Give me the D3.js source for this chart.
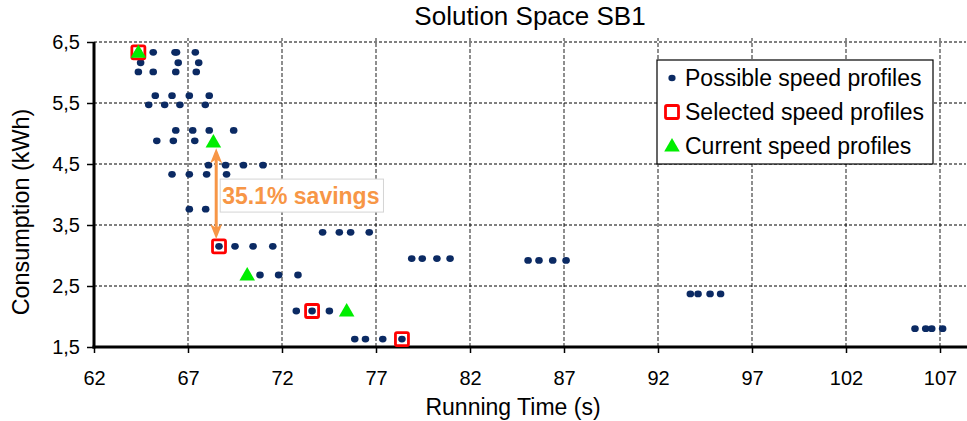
<!DOCTYPE html>
<html><head><meta charset="utf-8">
<script src="https://cdn.jsdelivr.net/npm/d3@7"></script>
<style>body{margin:0;background:#fff}svg{display:block;font-family:"Liberation Sans",Arial,sans-serif}</style>
</head><body><svg id="c" width="967" height="421"></svg>
<script>
// ---- data ----
const possibleX = [64.36,65.15,66.31,66.39,67.39, 64.48,66.48,67.57, 64.36,65.15,66.35,67.44,
  65.26,66.15,67.07,68.13, 64.91,65.76,66.57,67.92, 66.35,67.25,68.13,69.43, 65.34,66.22,67.36,
  68.09,69.0,69.95,70.99, 66.15,67.07,67.99,69.05, 67.07,67.94, 74.16,75.05,75.65,76.64,
  68.65,69.5,70.46,71.51, 70.83,71.82,72.85, 72.76,73.6,74.52, 75.87,76.44,77.36,78.38,
  78.9,79.46,80.24,80.94, 85.09,85.67,86.4,87.11, 93.72,94.13,94.77,95.33, 105.67,106.24,106.56,107.14];
const possibleY = [6.33,6.33,6.33,6.33,6.33, 6.16,6.16,6.16, 6.01,6.01,6.01,6.01,
  5.62,5.62,5.62,5.62, 5.47,5.47,5.47,5.47, 5.05,5.05,5.05,5.05, 4.88,4.88,4.88,
  4.48,4.48,4.48,4.48, 4.33,4.33,4.33,4.33, 3.76,3.76, 3.38,3.38,3.38,3.38,
  3.15,3.15,3.15,3.15, 2.68,2.68,2.68, 2.09,2.09,2.09, 1.63,1.63,1.63,1.63,
  2.95,2.95,2.95,2.95, 2.92,2.92,2.92,2.92, 2.37,2.37,2.37,2.37, 1.80,1.80,1.80,1.80];
const selectedX = [64.36, 68.65, 73.6, 78.38];
const selectedY = [6.33, 3.15, 2.09, 1.63];
const currentX = [64.36, 68.35, 70.15, 75.44];
const currentY = [6.33, 4.86, 2.68, 2.09];
const xTicks = [62,67,72,77,82,87,92,97,102,107];
const yTicks = [1.5,2.5,3.5,4.5,5.5,6.5];
const seriesNames = ["Possible speed profiles","Selected speed profiles","Current speed profiles"];
const titleText = "Solution Space SB1";
const xLabel = "Running Time (s)";
const yLabel = "Consumption (kWh)";
const savingsText = "35.1% savings";
const arrowX = 68.5, arrowTopY = 4.76, arrowBottomY = 3.27;

// ---- layout ----
const svg = d3.select("#c");
const L = 94, R = 966, T = 42, B = 347;
const x = d3.scaleLinear().domain([62,107]).range([L, 940]);
const y = d3.scaleLinear().domain([1.5,6.5]).range([B, T]);
const DOT = "#0b2a63", RED = "#ff0000", GREEN = "#00ee00", ORANGE = "#f79646";
const fmt = v => d3.format(".1f")(v).replace(".", ",");

// vertical gridlines
svg.append("g").selectAll("line").data(xTicks.filter(t => t > 62)).join("line")
  .attr("x1", d => x(d)).attr("x2", d => x(d)).attr("y1", B).attr("y2", T - 4)
  .attr("stroke", "#444").attr("stroke-width", 1.2).attr("stroke-dasharray", "4,2");
// horizontal gridlines
svg.append("g").selectAll("line").data(yTicks.filter(t => t > 1.5)).join("line")
  .attr("x1", L).attr("x2", R).attr("y1", d => y(d)).attr("y2", d => y(d))
  .attr("stroke", "#000").attr("stroke-width", 1).attr("stroke-dasharray", "3,2");

// axes
const xAxis = svg.append("g").attr("transform", `translate(0,${B})`)
  .call(d3.axisBottom(x).tickValues(xTicks).tickSize(6).tickPadding(18).tickFormat(d3.format("d")));
xAxis.select(".domain").remove();
xAxis.selectAll(".tick line").attr("stroke", "#000").attr("stroke-width", 1.5);
xAxis.selectAll("text").attr("font-size", 20).attr("fill", "#000").attr("font-family", "Liberation Sans, Arial, sans-serif");
svg.append("line").attr("x1", L - 1.5).attr("x2", R + 2).attr("y1", B).attr("y2", B).attr("stroke", "#000").attr("stroke-width", 3);

const yAxis = svg.append("g").attr("transform", `translate(${L},0)`)
  .call(d3.axisLeft(y).tickValues(yTicks).tickSize(7).tickPadding(7).tickFormat(fmt));
yAxis.select(".domain").remove();
yAxis.selectAll(".tick line").attr("stroke", "#000").attr("stroke-width", 1.5);
yAxis.selectAll("text").attr("font-size", 20).attr("fill", "#000").attr("font-family", "Liberation Sans, Arial, sans-serif");
svg.append("line").attr("x1", L).attr("x2", L).attr("y1", T).attr("y2", B + 1.5).attr("stroke", "#000").attr("stroke-width", 3);

// points
const possible = possibleX.map((v, i) => [v, possibleY[i]]);
const selected = selectedX.map((v, i) => [v, selectedY[i]]);
const current = currentX.map((v, i) => [v, currentY[i]]);
svg.append("g").selectAll("ellipse").data(possible).join("ellipse")
  .attr("cx", d => x(d[0])).attr("cy", d => y(d[1])).attr("rx", 3.8).attr("ry", 3.4).attr("fill", DOT);
svg.append("g").selectAll("rect").data(selected).join("rect")
  .attr("x", d => x(d[0]) - 6.5).attr("y", d => y(d[1]) - 6.5).attr("width", 13).attr("height", 13).attr("rx", 1.5)
  .attr("fill", "none").attr("stroke", RED).attr("stroke-width", 2.8);
const tri = d3.symbol().type(d3.symbolTriangle).size(105);
svg.append("g").selectAll("path").data(current).join("path")
  .attr("d", tri).attr("transform", d => `translate(${x(d[0])},${y(d[1]) + 1})`).attr("fill", GREEN);

// annotation arrow
const ax = x(arrowX), ay1 = y(arrowTopY), ay2 = y(arrowBottomY);
svg.append("line").attr("x1", ax).attr("x2", ax).attr("y1", ay1 + 10).attr("y2", ay2 - 10)
  .attr("stroke", ORANGE).attr("stroke-width", 3);
svg.append("path").attr("d", `M${ax},${ay1} L${ax - 6},${ay1 + 15} L${ax},${ay1 + 11} L${ax + 6},${ay1 + 15} Z`).attr("fill", ORANGE);
svg.append("path").attr("d", `M${ax},${ay2} L${ax - 6},${ay2 - 15} L${ax},${ay2 - 11} L${ax + 6},${ay2 - 15} Z`).attr("fill", ORANGE);
const midY = (ay1 + ay2) / 2 + 2;
const tg = svg.append("g");
const bx = ax + 4;
const tbox = tg.append("rect").attr("x", bx).attr("y", midY - 16.5).attr("height", 33).attr("fill", "#fff").attr("stroke", "#d4d4d4").attr("stroke-width", 1);
const tt = tg.append("text").attr("x", bx + 2).attr("y", midY + 8).attr("font-size", 23).attr("font-weight", "bold").attr("fill", ORANGE).text(savingsText);
tbox.attr("width", tt.node().getComputedTextLength() + 6);

// legend
const lg = svg.append("g");
lg.append("rect").attr("x", 657).attr("y", 60).attr("width", 276).attr("height", 104).attr("fill", "#fff").attr("stroke", "#000").attr("stroke-width", 1.2);
const ly = [78, 112, 146];
lg.append("ellipse").attr("cx", 672).attr("cy", ly[0]).attr("rx", 3.6).attr("ry", 3.2).attr("fill", DOT);
lg.append("rect").attr("x", 665.5).attr("y", ly[1] - 6.5).attr("width", 13).attr("height", 13).attr("rx", 1.5).attr("fill", "none").attr("stroke", RED).attr("stroke-width", 2.8);
lg.append("path").attr("d", tri).attr("transform", `translate(672,${ly[2] + 1})`).attr("fill", GREEN);
lg.selectAll("text").data(seriesNames).join("text")
  .attr("x", 685).attr("y", (d, i) => ly[i] + 8).attr("font-size", 23).attr("fill", "#000").text(d => d);

// titles
svg.append("text").attr("x", 530).attr("y", 25).attr("text-anchor", "middle").attr("font-size", 26).attr("fill", "#000").text(titleText);
svg.append("text").attr("x", 513).attr("y", 415).attr("text-anchor", "middle").attr("font-size", 23).attr("fill", "#000").text(xLabel);
svg.append("text").attr("transform", `translate(29,212) rotate(-90)`).attr("text-anchor", "middle").attr("font-size", 23.4).attr("fill", "#000").text(yLabel);
</script></body></html>
